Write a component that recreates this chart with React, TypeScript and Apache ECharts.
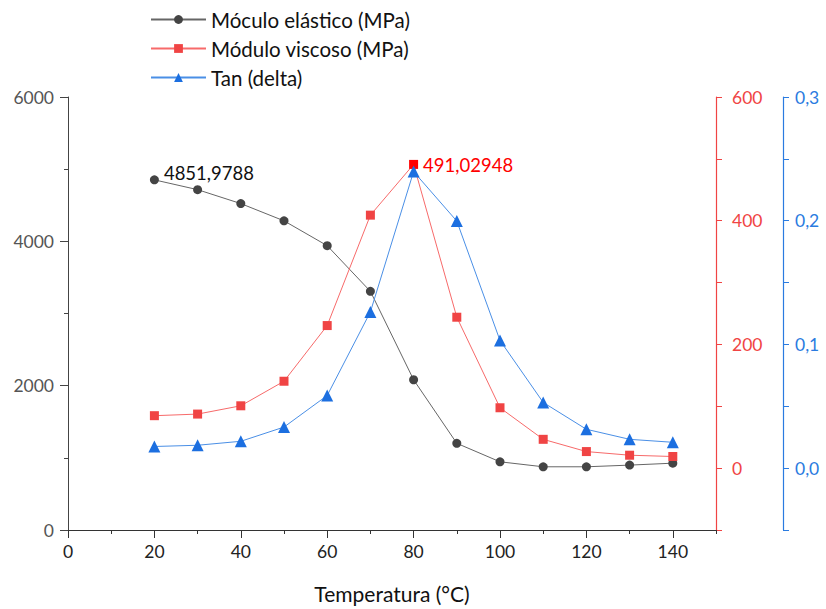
import React, { useEffect, useRef } from "react";
import * as echarts from "echarts";

const temps = [20, 30, 40, 50, 60, 70, 80, 90, 100, 110, 120, 130, 140];
const elastic = [4851.9788, 4716, 4523, 4284, 3940, 3307, 2082, 1201, 945, 876, 876, 899, 926];
const viscous = [84.8, 87.4, 100.8, 140.5, 230.5, 409, 491.02948, 244, 97.6, 46.6, 26.8, 20.9, 18.8];
const tanDelta = [0.0175, 0.0185, 0.0217, 0.0332, 0.0587, 0.1263, 0.2397, 0.1997, 0.1032, 0.0531, 0.0314, 0.0233, 0.0209];
const seriesNames = ["Móculo elástico (MPa)", "Módulo viscoso (MPa)", "Tan (delta)"];
const xTitle = "Temperatura (°C)";
const elasticLabelIndex = 0;
const viscousLabelIndex = 6;

const FONT = "Lato";

const fmtComma = (v: number) => String(v).replace(".", ",");

export default function App() {
  const ref = useRef<HTMLDivElement>(null);
  useEffect(() => {
    if (!ref.current) return;
    const chart = echarts.init(ref.current, null, { renderer: "svg" });
    const black = "#444444";
    const red = "#f04444";
    const blue = "#2a7be0";
    const elasticData = temps.map((t, i) =>
      i === elasticLabelIndex
        ? {
            value: [t, elastic[i]],
            label: {
              show: true,
              position: "right",
              offset: [0, -7],
              formatter: fmtComma(elastic[i]),
              color: "#111",
              fontSize: 18.5,
              fontFamily: FONT,
            },
          }
        : { value: [t, elastic[i]] }
    );
    const viscousData = temps.map((t, i) =>
      i === viscousLabelIndex
        ? {
            value: [t, viscous[i]],
            itemStyle: { color: "#ff0000" },
            label: {
              show: true,
              position: "right",
              offset: [0, 1],
              formatter: fmtComma(viscous[i]),
              color: "#ff0000",
              fontSize: 18.5,
              fontFamily: FONT,
            },
          }
        : { value: [t, viscous[i]] }
    );
    const tanData = temps.map((t, i) => [t, tanDelta[i]]);
    chart.setOption({
      animation: false,
      backgroundColor: "#ffffff",
      textStyle: { fontFamily: FONT },
      legend: {
        orient: "vertical",
        left: 150,
        top: 9,
        padding: 0,
        itemWidth: 55,
        itemHeight: 11,
        itemGap: 8,
        textStyle: { fontSize: 20.5, lineHeight: 21, color: "#111", fontFamily: FONT },
        data: seriesNames,
      },
      grid: { left: 68, right: 110, top: 97, bottom: 76 },
      xAxis: [
        {
          type: "value",
          min: 0,
          max: 150,
          interval: 20,
          name: xTitle,
          nameLocation: "middle",
          nameGap: 53,
          nameTextStyle: { fontSize: 21, color: "#111", fontFamily: FONT },
          axisLine: { show: true, onZero: false, lineStyle: { color: "#333", width: 1 } },
          axisTick: { show: true, length: 8, lineStyle: { color: "#333" } },
          axisLabel: { fontSize: 17.5, color: "#222", margin: 12, showMaxLabel: false, fontFamily: FONT },
          splitLine: { show: false },
        },
        {
          type: "value",
          min: 0,
          max: 150,
          interval: 10,
          position: "bottom",
          axisLine: { show: false, onZero: false },
          axisTick: { show: true, length: 4, lineStyle: { color: "#333" } },
          axisLabel: { show: false },
          splitLine: { show: false },
        },
      ],
      yAxis: [
        {
          type: "value",
          min: 0,
          max: 6000,
          interval: 2000,
          position: "left",
          axisLine: { show: true, onZero: false, lineStyle: { color: "#444", width: 1 } },
          axisTick: { show: true, length: 8, lineStyle: { color: "#444" } },
          minorTick: { show: true, splitNumber: 2, length: 4, lineStyle: { color: "#444" } },
          axisLabel: {
            fontSize: 17.5,
            color: "#555",
            margin: 14,
            fontFamily: FONT,
            formatter: (v: number) => String(v),
          },
          splitLine: { show: false },
          minorSplitLine: { show: false },
        },
        {
          type: "value",
          min: -100,
          max: 600,
          interval: 100,
          position: "right",
          axisLine: { show: true, onZero: false, lineStyle: { color: red, width: 1.2 } },
          axisTick: { show: true, length: 6, lineStyle: { color: red } },
          axisLabel: {
            fontSize: 17.5,
            color: red,
            margin: 16,
            fontFamily: FONT,
            formatter: (v: number) => (Math.round(v) % 200 === 0 ? String(Math.round(v)) : ""),
          },
          splitLine: { show: false },
        },
        {
          type: "value",
          min: -0.05,
          max: 0.3,
          interval: 0.05,
          position: "right",
          offset: 67,
          axisLine: { show: true, onZero: false, lineStyle: { color: blue, width: 1.2 } },
          axisTick: { show: true, length: 6, lineStyle: { color: blue } },
          axisLabel: {
            fontSize: 17.5,
            color: blue,
            margin: 12,
            fontFamily: FONT,
            formatter: (v: number) => {
              const k = Math.round(v * 100);
              return k % 10 === 0 && k >= 0 ? (k / 100).toFixed(1).replace(".", ",") : "";
            },
          },
          splitLine: { show: false },
        },
      ],
      series: [
        {
          name: seriesNames[0],
          type: "line",
          xAxisIndex: 0,
          yAxisIndex: 0,
          data: elasticData,
          symbol: "circle",
          symbolSize: 9,
          itemStyle: { color: black },
          lineStyle: { color: "#666", width: 1 },
        },
        {
          name: seriesNames[1],
          type: "line",
          xAxisIndex: 0,
          yAxisIndex: 1,
          data: viscousData,
          symbol: "rect",
          symbolSize: 9,
          itemStyle: { color: red },
          lineStyle: { color: "#f76a6a", width: 1 },
        },
        {
          name: seriesNames[2],
          type: "line",
          xAxisIndex: 0,
          yAxisIndex: 2,
          data: tanData,
          symbol: "triangle",
          symbolSize: 12,
          itemStyle: { color: "#1c6fe0" },
          lineStyle: { color: "#4a8fe6", width: 1 },
        },
      ],
    });
    return () => chart.dispose();
  }, []);
  return (
    <div
      ref={ref}
      style={{ position: "fixed", left: 0, top: 0, width: 826, height: 609, background: "#fff" }}
    />
  );
}
